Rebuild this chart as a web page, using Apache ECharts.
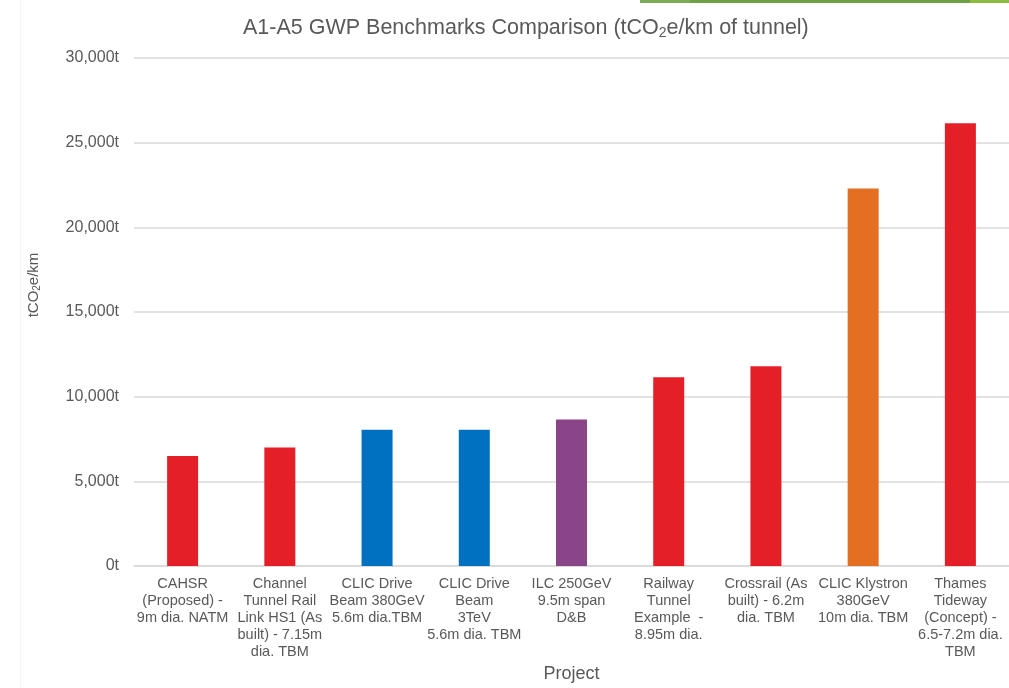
<!DOCTYPE html>
<html>
<head>
<meta charset="utf-8">
<script src="https://cdn.jsdelivr.net/npm/echarts@6/dist/echarts.min.js"></script>
<style>
  html, body { margin: 0; padding: 0; background: #fff; }
  #chart { width: 1009px; height: 688px; }
</style>
</head>
<body>
<div id="chart"></div>
<script>
// projects as labelled on the x axis (line breaks as in the source)
const projects = [
  'CAHSR\n(Proposed) -\n9m dia. NATM',
  'Channel\nTunnel Rail\nLink HS1 (As\nbuilt) - 7.15m\ndia. TBM',
  'CLIC Drive\nBeam 380GeV\n5.6m dia.TBM',
  'CLIC Drive\nBeam\n3TeV\n5.6m dia. TBM',
  'ILC 250GeV\n9.5m span\nD&B',
  'Railway\nTunnel\nExample  -\n8.95m dia.',
  'Crossrail (As\nbuilt) - 6.2m\ndia. TBM',
  'CLIC Klystron\n380GeV\n10m dia. TBM',
  'Thames\nTideway\n(Concept) -\n6.5-7.2m dia.\nTBM'
]
// tCO2e per km of tunnel
const gwp = [6500, 7000, 8050, 8050, 8650, 11150, 11800, 22300, 26150]
const yTicks = [0, 5000, 10000, 15000, 20000, 25000, 30000]

const barColors = ['#E41F28', '#E41F28', '#0070C0', '#0070C0', '#8A4589', '#E41F28', '#E41F28', '#E46E22', '#E41F28']
const textGrey = '#595959'
const font = '"Liberation Sans", Arial, sans-serif'

const chart = echarts.init(document.getElementById('chart'))
chart.setOption({
  animation: false,
  textStyle: { fontFamily: font },
  title: {
    text: 'A1-A5 GWP Benchmarks Comparison (tCO{sub|2}e/km of tunnel)',
    left: 238,
    top: 11,
    textStyle: {
      color: textGrey,
      fontSize: 21.5,
      fontWeight: 'normal',
      fontFamily: font,
      rich: {
        sub: { fontSize: 14, color: textGrey, fontFamily: font, padding: [10, 0, 0, 0] }
      }
    }
  },
  graphic: [
    { type: 'rect', shape: { x: 640, y: 0, width: 50, height: 3 }, style: { fill: '#7DAA57' } },
    { type: 'rect', shape: { x: 690, y: 0, width: 280, height: 3 }, style: { fill: '#70A046' } },
    { type: 'rect', shape: { x: 970, y: 0, width: 39, height: 3 }, style: { fill: '#8CBD3F' } },
    { type: 'rect', shape: { x: 20, y: 0, width: 1, height: 688 }, style: { fill: '#F4F4F4' } }
  ],
  grid: {
    left: 134,
    top: 58,
    width: 878,
    height: 508
  },
  xAxis: {
    type: 'category',
    data: projects,
    name: 'Project',
    nameLocation: 'middle',
    nameGap: 98,
    nameTextStyle: { color: textGrey, fontSize: 18, fontFamily: font },
    axisLine: { lineStyle: { color: '#D9D9D9', width: 1.5 } },
    axisTick: { show: false },
    axisLabel: {
      color: textGrey,
      fontSize: 14.5,
      lineHeight: 17,
      margin: 9,
      interval: 0,
      fontFamily: font
    }
  },
  yAxis: {
    type: 'value',
    min: 0,
    max: 30000,
    interval: 5000,
    name: 'tCO{sub|2}e/km',
    nameLocation: 'middle',
    nameRotate: 90,
    nameGap: 92,
    nameTextStyle: {
      color: textGrey,
      fontSize: 15,
      fontFamily: font,
      padding: [0, 0, 0, 54],
      rich: {
        sub: { fontSize: 10, color: textGrey, fontFamily: font, padding: [7, 0, 0, 0] }
      }
    },
    axisLine: { show: false },
    axisTick: { show: false },
    splitLine: { lineStyle: { color: '#D9D9D9', width: 1.5 } },
    axisLabel: {
      color: textGrey,
      fontSize: 16,
      margin: 15,
      fontFamily: font,
      formatter: v => yTicks.includes(v) ? v.toLocaleString('en-US') + 't' : ''
    }
  },
  series: [{
    type: 'bar',
    data: gwp.map((v, i) => ({ value: v, itemStyle: { color: barColors[i] } })),
    barWidth: 31
  }]
})
</script>
</body>
</html>
